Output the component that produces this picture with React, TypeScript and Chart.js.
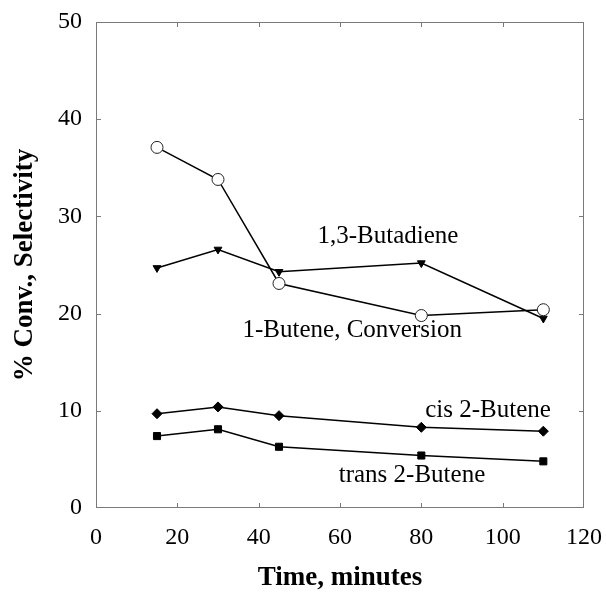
import React, { useEffect, useRef } from "react";
import { Chart, registerables } from "chart.js";

Chart.register(...registerables);

// Sampling times (minutes)
const timeMinutes = [15, 30, 45, 80, 110];

// Series values (%)
const conversion1Butene = [37.1, 33.8, 23.1, 19.8, 20.4];
const selButadiene = [24.7, 26.6, 24.3, 25.2, 19.5];
const selCis2Butene = [9.7, 10.4, 9.5, 8.3, 7.9];
const selTrans2Butene = [7.4, 8.1, 6.3, 5.4, 4.8];

// Axis ranges and tick steps
const xRange = [0, 120];
const xStep = 20;
const yRange = [0, 50];
const yStep = 10;

// In-plot series labels, anchored in data units
const labelTexts = ["1,3-Butadiene", "1-Butene, Conversion", "cis 2-Butene", "trans 2-Butene"];
const labelX = [71.8, 63, 96.4, 77.7];
const labelY = [27.9, 18.3, 10.0, 3.4];

const SERIF = "'Liberation Serif', 'Times New Roman', serif";

const framePlugin = {
  id: "frameTicks",
  beforeDatasetsDraw(chart: any) {
    const { ctx, chartArea, scales } = chart;
    const { left, right, top, bottom } = chartArea;
    const len = 5;
    ctx.save();
    ctx.strokeStyle = "#7a7a7a";
    ctx.lineWidth = 1;
    ctx.strokeRect(left + 0.5, top + 0.5, right - left - 1, bottom - top - 1);
    ctx.beginPath();
    for (let v = xRange[0] + xStep; v < xRange[1]; v += xStep) {
      const px = Math.round(scales.x.getPixelForValue(v)) + 0.5;
      ctx.moveTo(px, bottom);
      ctx.lineTo(px, bottom - len);
      ctx.moveTo(px, top);
      ctx.lineTo(px, top + len);
    }
    for (let v = yRange[0] + yStep; v < yRange[1]; v += yStep) {
      const py = Math.round(scales.y.getPixelForValue(v)) + 0.5;
      ctx.moveTo(left, py);
      ctx.lineTo(left + len, py);
      ctx.moveTo(right, py);
      ctx.lineTo(right - len, py);
    }
    ctx.stroke();
    ctx.restore();
  },
  afterDatasetsDraw(chart: any) {
    const { ctx, scales } = chart;
    ctx.save();
    ctx.fillStyle = "#000";
    ctx.font = `25px ${SERIF}`;
    ctx.textAlign = "center";
    ctx.textBaseline = "middle";
    labelTexts.forEach((t, i) => {
      ctx.fillText(t, scales.x.getPixelForValue(labelX[i]), scales.y.getPixelForValue(labelY[i]));
    });
    ctx.restore();
  },
};

export default function App() {
  const canvasRef = useRef<HTMLCanvasElement | null>(null);

  useEffect(() => {
    if (!canvasRef.current) return;
    const line = { borderColor: "#000", borderWidth: 1.5, tension: 0, fill: false };
    const chart = new Chart(canvasRef.current, {
      type: "line",
      data: {
        labels: timeMinutes,
        datasets: [
          {
            ...line,
            label: "1-Butene, Conversion",
            data: timeMinutes.map((t, i) => ({ x: t, y: conversion1Butene[i] })),
            pointStyle: "circle",
            pointRadius: 6,
            pointBackgroundColor: "#fff",
            pointBorderColor: "#222",
            pointBorderWidth: 1,
          },
          {
            ...line,
            label: "1,3-Butadiene",
            data: timeMinutes.map((t, i) => ({ x: t, y: selButadiene[i] })),
            pointStyle: "triangle",
            rotation: 180,
            pointRadius: 4.5,
            pointBackgroundColor: "#000",
            pointBorderColor: "#000",
            pointBorderWidth: 1,
          },
          {
            ...line,
            label: "cis 2-Butene",
            data: timeMinutes.map((t, i) => ({ x: t, y: selCis2Butene[i] })),
            pointStyle: "rectRot",
            pointRadius: 5,
            pointBackgroundColor: "#000",
            pointBorderColor: "#000",
            pointBorderWidth: 1,
          },
          {
            ...line,
            label: "trans 2-Butene",
            data: timeMinutes.map((t, i) => ({ x: t, y: selTrans2Butene[i] })),
            pointStyle: "rect",
            pointRadius: 5,
            pointBackgroundColor: "#000",
            pointBorderColor: "#000",
            pointBorderWidth: 1,
          },
        ],
      },
      options: {
        responsive: false,
        animation: false,
        devicePixelRatio: 1,
        layout: { padding: { top: 22, right: 22, left: 0, bottom: 0 } },
        plugins: { legend: { display: false }, tooltip: { enabled: false } },
        scales: {
          x: {
            type: "linear",
            min: xRange[0],
            max: xRange[1],
            grid: { display: false, drawTicks: false },
            border: { display: false },
            ticks: {
              stepSize: xStep,
              color: "#000",
              padding: 15,
              font: { family: SERIF, size: 24 },
            },
            title: {
              display: true,
              text: "Time, minutes",
              color: "#000",
              font: { family: SERIF, size: 27, weight: "bold" },
              padding: { top: 0, bottom: 2 },
            },
            afterFit: (s: any) => {
              s.height = 88;
              s.paddingLeft = 0;
              s.paddingRight = 0;
            },
          },
          y: {
            min: yRange[0],
            max: yRange[1],
            grid: { display: false, drawTicks: false },
            border: { display: false },
            ticks: {
              stepSize: yStep,
              color: "#000",
              padding: 14,
              font: { family: SERIF, size: 24 },
            },
            title: {
              display: true,
              text: "% Conv., Selectivity",
              color: "#000",
              font: { family: SERIF, size: 27, weight: "bold" },
              padding: { top: 9, bottom: 0 },
            },
            afterFit: (s: any) => {
              s.width = 96;
              s.paddingTop = 0;
              s.paddingBottom = 0;
            },
          },
        },
      },
      plugins: [framePlugin],
    } as any);
    return () => chart.destroy();
  }, []);

  return (
    <div style={{ position: "absolute", left: 0, top: 0, width: 606, height: 596, background: "#fff" }}>
      <canvas ref={canvasRef} width={606} height={596} />
    </div>
  );
}
